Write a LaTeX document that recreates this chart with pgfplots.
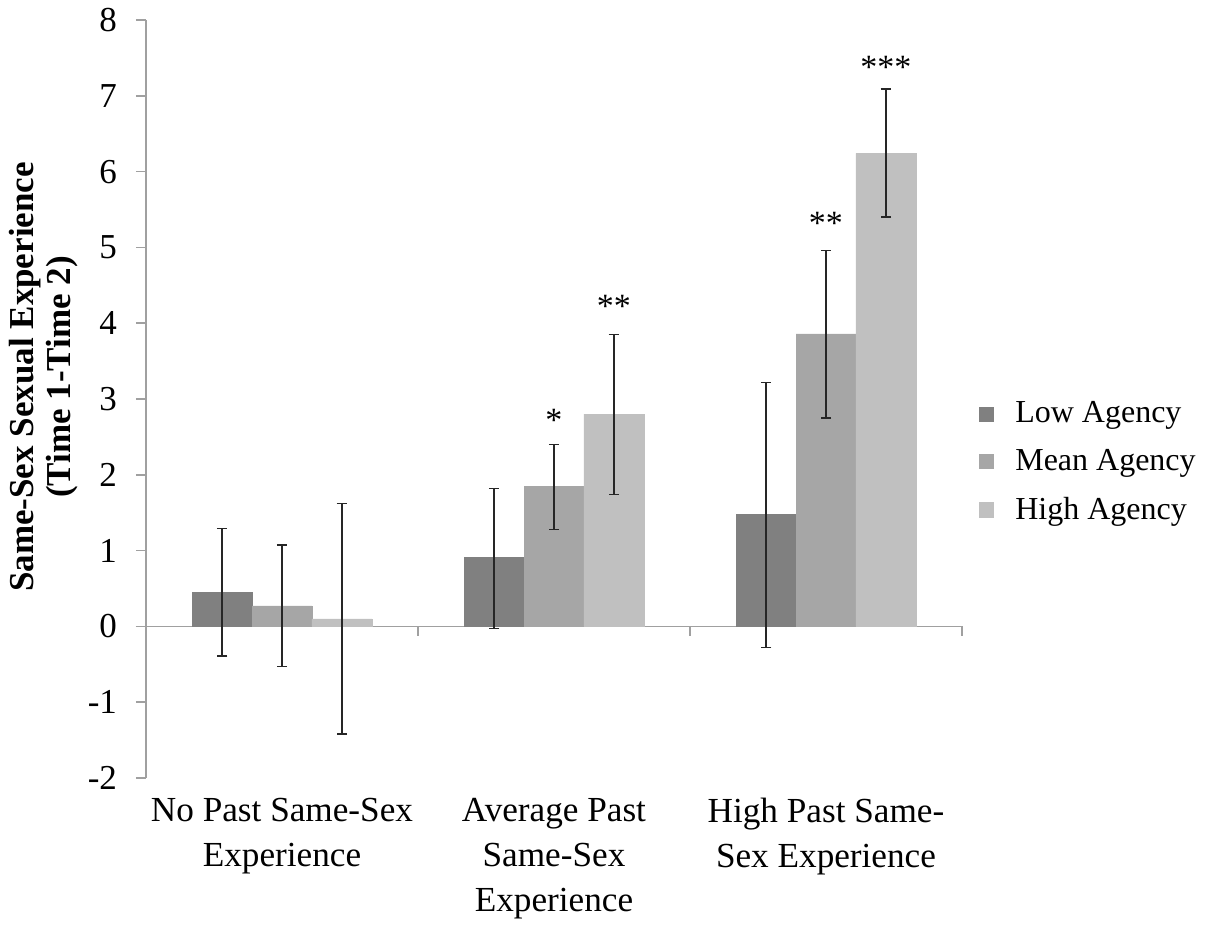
\documentclass[border=0pt]{standalone}
\usepackage{fontspec}
\setmainfont{Liberation Serif}
\usepackage{pgfplots}
\pgfplotsset{compat=1.18}
\definecolor{lowc}{HTML}{808080}
\definecolor{meanc}{HTML}{A6A6A6}
\definecolor{highc}{HTML}{C0C0C0}
\definecolor{axc}{HTML}{A0A0A0}
\definecolor{errc}{HTML}{262626}
\begin{document}
\begin{tikzpicture}
\begin{axis}[
  name=ax,
  scale only axis,
  clip=false,
  width=408pt, height=379pt,
  xmin=-0.5, xmax=2.5, ymin=-2, ymax=8,
  axis lines*=left,
  x axis line style={draw=none},
  y axis line style={draw=axc, line width=0.75pt},
  ytick={-2,-1,0,1,2,3,4,5,6,7,8},
  ytick style={draw=axc, line width=0.75pt},
  tick align=outside,
  major tick length=5pt,
  xtick={0,1,2},
  xtick style={draw=none},
  xticklabels={{No Past Same-Sex\\Experience},{Average Past\\Same-Sex\\Experience},{High Past Same-\\Sex Experience}},
  xticklabel style={align=center, font=\fontsize{17.6}{22.5}\selectfont, yshift=-1.5pt},
  yticklabel style={font=\fontsize{17.5}{20}\selectfont, xshift=-6pt},
  /pgf/number format/assume math mode=true,
  extra y ticks={0},
  extra y tick labels={},
  extra y tick style={grid=major, major grid style={draw=axc, line width=0.75pt}},
  ylabel={Same-Sex Sexual Experience\\(Time 1-Time 2)},
  every axis y label/.style={at={(axis description cs:-0.0833,0.529)}, rotate=90, anchor=south, inner sep=0pt},
  ylabel style={align=center, font=\bfseries\fontsize{17.5}{18.5}\selectfont},
  ybar,
  bar width=0.22,
  legend style={at={(1.02,0.417)}, anchor=west, draw=none, inner sep=0pt,
    font=\fontsize{16}{19}\selectfont, row sep=11.7pt,
    nodes={inner sep=0pt, anchor=west},
    /tikz/every odd column/.append style={column sep=11pt}},
  legend image code/.code={\fill[#1] (0pt,-3.6pt) rectangle (7.2pt,3.6pt);},
  legend cell align=left,
  error bars/y dir=both,
  error bars/y explicit,
  error bars/error mark=|,
  error bars/error bar style={draw=errc, line width=0.8pt},
  error bars/error mark options={draw=errc, mark size=2.6pt, line width=0.8pt},
]
\addplot[fill=lowc, draw=lowc, line width=0.1pt, bar shift=-0.22]
  coordinates {
  (0,0.45) += (0,0.84) -= (0,0.84)
  (1,0.91) += (0,0.91) -= (0,0.94)
  (2,1.48) += (0,1.74) -= (0,1.76)
  };
\addplot[fill=meanc, draw=meanc, line width=0.1pt, bar shift=0]
  coordinates {
  (0,0.27) += (0,0.80) -= (0,0.80)
  (1,1.85) += (0,0.55) -= (0,0.57)
  (2,3.86) += (0,1.10) -= (0,1.11)
  };
\addplot[fill=highc, draw=highc, line width=0.1pt, bar shift=0.22]
  coordinates {
  (0,0.10) += (0,1.52) -= (0,1.52)
  (1,2.80) += (0,1.05) -= (0,1.06)
  (2,6.24) += (0,0.85) -= (0,0.84)
  };
\legend{Low Agency, Mean Agency, High Agency}
\node[font=\fontsize{17}{20}\selectfont, inner sep=0pt] at (axis cs:1,2.72) {*};
\node[font=\fontsize{17}{20}\selectfont, inner sep=0pt] at (axis cs:1.22,4.22) {**};
\node[font=\fontsize{17}{20}\selectfont, inner sep=0pt] at (axis cs:2,5.32) {**};
\node[font=\fontsize{17}{20}\selectfont, inner sep=0pt] at (axis cs:2.22,7.37) {***};
\draw[axc, line width=0.75pt] (axis cs:0.5,0) -- ([yshift=-5pt]axis cs:0.5,0);
\draw[axc, line width=0.75pt] (axis cs:1.5,0) -- ([yshift=-5pt]axis cs:1.5,0);
\draw[axc, line width=0.75pt] (axis cs:2.5,0) -- ([yshift=-5pt]axis cs:2.5,0);
\end{axis}
\path (-73pt,-71pt) rectangle (538.5pt,389pt);
\end{tikzpicture}
\end{document}
